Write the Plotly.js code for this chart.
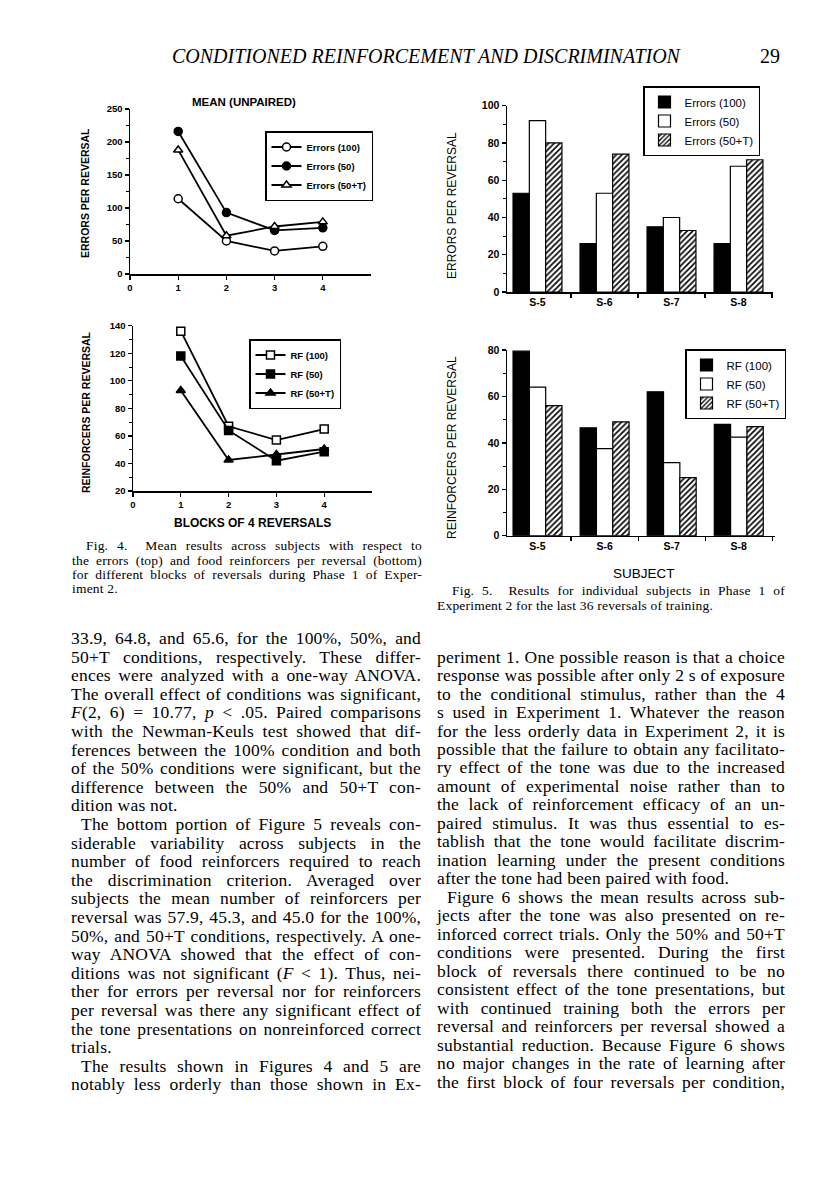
<!DOCTYPE html>
<html>
<head>
<meta charset="utf-8">
<script src="https://cdn.plot.ly/plotly-3.0.1.min.js"></script>
<style>
  body { margin: 0; background: #fff; }
  #page { position: relative; width: 816px; height: 1200px; overflow: hidden; background: #fff; }
  #chart { position: absolute; left: 0; top: 0; width: 816px; height: 1200px; }
  .ln { position: absolute; white-space: nowrap; font-family: "Liberation Serif", "Times New Roman", serif; color: #000; }
  .just { text-align: justify; text-align-last: justify; }
</style>
</head>
<body>
<div id="page">
  <div id="chart"></div>
</div>
<script>
// Fig. 4 - mean results per block of 4 reversals
const blocks = [1, 2, 3, 4]
const errors100 = [114, 50, 35, 42]
const errors50 = [216, 93, 66, 70]
const errors50T = [188, 58, 72, 79]
const rf100 = [136, 67, 57, 65]
const rf50 = [118, 64, 42, 48.5]
const rf50T = [93, 42.5, 46.5, 50.5]

// Fig. 5 - individual subjects
const subjects = ["S-5", "S-6", "S-7", "S-8"]
const subjErrors100 = [53, 26, 35, 26]
const subjErrors50 = [92, 53, 40, 67.5]
const subjErrors50T = [80, 74, 33, 71]
const subjRf100 = [79.5, 46.5, 62, 48]
const subjRf50 = [64, 37.5, 31.5, 42.5]
const subjRf50T = [56, 49, 25, 47]

// page pixel -> paper fraction (margins are 0)
const W = 816, H = 1200
const px = (x) => x / W
const py = (y) => 1 - y / H

const sans = "Liberation Sans, Arial, sans-serif"
const bold = { family: sans, weight: 700, color: "black" }

const lineTrace = (x, y, name, ax, leg, symbol, fill) => ({
  x, y, name, mode: "lines+markers",
  xaxis: "x" + ax, yaxis: "y" + ax, legend: leg,
  line: { color: "black", width: 1.8 },
  marker: { symbol, size: 8, color: fill, line: { color: "black", width: 1.5 } },
})

const hatch = { shape: "/", fgcolor: "black", bgcolor: "white", size: 4, solidity: 0.4 }
const barTrace = (y, name, ax, leg, fill, pattern) => ({
  type: "bar", x: subjects, y, name,
  xaxis: "x" + ax, yaxis: "y" + ax, legend: leg,
  marker: Object.assign({ color: fill, line: { color: "black", width: 1.2 } }, pattern ? { pattern } : {}),
})

const data = [
  lineTrace(blocks, errors100, "Errors (100)", "", "legend", "circle", "white"),
  lineTrace(blocks, errors50, "Errors (50)", "", "legend", "circle", "black"),
  lineTrace(blocks, errors50T, "Errors (50+T)", "", "legend", "triangle-up", "white"),
  lineTrace(blocks, rf100, "RF (100)", "2", "legend2", "square", "white"),
  lineTrace(blocks, rf50, "RF (50)", "2", "legend2", "square", "black"),
  lineTrace(blocks, rf50T, "RF (50+T)", "2", "legend2", "triangle-up", "black"),
  barTrace(subjErrors100, "Errors (100)", "3", "legend3", "black"),
  barTrace(subjErrors50, "Errors (50)", "3", "legend3", "white"),
  barTrace(subjErrors50T, "Errors (50+T)", "3", "legend3", "white", hatch),
  barTrace(subjRf100, "RF (100)", "4", "legend4", "black"),
  barTrace(subjRf50, "RF (50)", "4", "legend4", "white"),
  barTrace(subjRf50T, "RF (50+T)", "4", "legend4", "white", hatch),
]

const axisBase = {
  showline: true, linecolor: "black", linewidth: 1.5,
  showgrid: false, zeroline: false,
  ticks: "outside", tickcolor: "black", tickwidth: 1.3, ticklen: 4,
}
const minor = (d) => ({ dtick: d, ticks: "outside", ticklen: 2.5, tickcolor: "black", tickwidth: 1 })
const ax = (o) => Object.assign({}, axisBase, o)

const legendBase = (x, y, size, weight) => ({
  x: px(x), y: py(y), xanchor: "left", yanchor: "top",
  bgcolor: "white", bordercolor: "black", borderwidth: 1.5,
  font: { family: sans, size, weight, color: "black" },
})

const note = (text, x, y, font, angle) => ({
  text, x: px(x), y: py(y), xref: "paper", yref: "paper",
  showarrow: false, xanchor: "center", yanchor: "middle",
  textangle: angle || 0, font,
})

const smallTicks = Object.assign({ size: 9.5 }, bold)
const barTicks = Object.assign({ size: 10.5 }, bold)

const layout = {
  width: W, height: H,
  margin: { l: 0, r: 0, t: 0, b: 0 },
  paper_bgcolor: "white", plot_bgcolor: "rgba(0,0,0,0)",
  barmode: "group", bargap: 0.27, bargroupgap: 0,
  xaxis: ax({ domain: [px(130), px(371)], range: [0, 5], tickvals: [0, 1, 2, 3, 4], anchor: "y", tickfont: smallTicks }),
  yaxis: ax({ domain: [py(274), py(109)], range: [0, 250], dtick: 50, minor: minor(25), anchor: "x", tickfont: smallTicks }),
  xaxis2: ax({ domain: [px(133), px(372)], range: [0, 5], tickvals: [0, 1, 2, 3, 4], anchor: "y2", tickfont: smallTicks }),
  yaxis2: ax({ domain: [py(491), py(325.7)], range: [20, 140], dtick: 20, minor: minor(10), anchor: "x2", tickfont: smallTicks }),
  xaxis3: ax({ type: "category", domain: [px(507), px(773)], range: [-0.455, 3.515], tickson: "boundaries",
    anchor: "y3", tickfont: barTicks }),
  yaxis3: ax({ domain: [py(292), py(105.7)], range: [0, 100], dtick: 20, minor: minor(10), anchor: "x3", tickfont: barTicks }),
  xaxis4: ax({ type: "category", domain: [px(507), px(775)], range: [-0.455, 3.54], tickson: "boundaries",
    anchor: "y4", tickfont: barTicks }),
  yaxis4: ax({ domain: [py(535.7), py(350)], range: [0, 80], dtick: 20, minor: minor(10), anchor: "x4", tickfont: barTicks }),
  legend: legendBase(265, 131, 9.5, 700),
  legend2: legendBase(249, 339, 9.5, 700),
  legend3: legendBase(643, 86, 11.5, 400),
  legend4: legendBase(685, 349, 11.5, 400),
  annotations: [
    note("MEAN (UNPAIRED)", 244, 102, Object.assign({ size: 11.5 }, bold)),
    note("ERRORS PER REVERSAL", 85, 193, Object.assign({ size: 10.5 }, bold), -90),
    note("REINFORCERS PER REVERSAL", 86, 412, Object.assign({ size: 10.5 }, bold), -90),
    note("BLOCKS OF 4 REVERSALS", 252, 523, Object.assign({ size: 12 }, bold)),
    note("ERRORS PER REVERSAL", 452, 206, { family: sans, size: 12, color: "black" }, -90),
    note("REINFORCERS PER REVERSAL", 452, 448, { family: sans, size: 12, color: "black" }, -90),
    note("SUBJECT", 644, 574, { family: sans, size: 13.5, color: "black" }),
  ],
  showlegend: true,
}

Plotly.newPlot("chart", data, layout, { displayModeBar: false, staticPlot: true })

// ---- page text (header, captions, body columns) ----
const page = document.getElementById("page")

// place one line of text by its baseline
function addLine(html, left, width, baseline, size, opts) {
  opts = opts || {}
  const lh = Math.round(size * 1.15)
  const top = baseline - ((lh - 1.107 * size) / 2 + 0.891 * size)
  const d = document.createElement("div")
  d.className = "ln" + (opts.just ? " just" : "")
  d.style.left = left + (opts.indent || 0) + "px"
  if (width) d.style.width = width - (opts.indent || 0) + "px"
  d.style.top = top + "px"
  d.style.fontSize = size + "px"
  d.style.lineHeight = lh + "px"
  if (opts.spacing) d.style.letterSpacing = opts.spacing + "px"
  if (opts.italic) d.style.fontStyle = "italic"
  d.innerHTML = html
  page.appendChild(d)
}

addLine("CONDITIONED REINFORCEMENT AND DISCRIMINATION", 172, 0, 63, 20, { italic: true })
addLine("29", 760, 0, 63, 20)

const fig4Caption = [
  "Fig. 4.&nbsp; Mean results across subjects with respect to",
  "the errors (top) and food reinforcers per reversal (bottom)",
  "for different blocks of reversals during Phase 1 of Exper-",
  "iment 2.",
]
fig4Caption.forEach((t, i) => addLine(t, 72, 350, 551 + i * 14.2, 13.5,
  { just: i < 3, indent: i === 0 ? 14 : 0, spacing: 0.2 }))

const fig5Caption = [
  "Fig. 5.&nbsp; Results for individual subjects in Phase 1 of",
  "Experiment 2 for the last 36 reversals of training.",
]
fig5Caption.forEach((t, i) => addLine(t, 437, 348, 595.5 + i * 15, 13.5,
  { just: i === 0, indent: i === 0 ? 15 : 0, spacing: 0.2 }))

// ">" = paragraph indent, "|" = last line of paragraph (not justified)
const leftColumn = [
  "33.9, 64.8, and 65.6, for the 100%, 50%, and",
  "50+T conditions, respectively. These differ-",
  "ences were analyzed with a one-way ANOVA.",
  "The overall effect of conditions was significant,",
  "<i>F</i>(2, 6) = 10.77, <i>p</i> &lt; .05. Paired comparisons",
  "with the Newman-Keuls test showed that dif-",
  "ferences between the 100% condition and both",
  "of the 50% conditions were significant, but the",
  "difference between the 50% and 50+T con-",
  "|dition was not.",
  ">The bottom portion of Figure 5 reveals con-",
  "siderable variability across subjects in the",
  "number of food reinforcers required to reach",
  "the discrimination criterion. Averaged over",
  "subjects the mean number of reinforcers per",
  "reversal was 57.9, 45.3, and 45.0 for the 100%,",
  "50%, and 50+T conditions, respectively. A one-",
  "way ANOVA showed that the effect of con-",
  "ditions was not significant (<i>F</i> &lt; 1). Thus, nei-",
  "ther for errors per reversal nor for reinforcers",
  "per reversal was there any significant effect of",
  "the tone presentations on nonreinforced correct",
  "|trials.",
  ">The results shown in Figures 4 and 5 are",
  "notably less orderly than those shown in Ex-",
]
const rightColumn = [
  "periment 1. One possible reason is that a choice",
  "response was possible after only 2 s of exposure",
  "to the conditional stimulus, rather than the 4",
  "s used in Experiment 1. Whatever the reason",
  "for the less orderly data in Experiment 2, it is",
  "possible that the failure to obtain any facilitato-",
  "ry effect of the tone was due to the increased",
  "amount of experimental noise rather than to",
  "the lack of reinforcement efficacy of an un-",
  "paired stimulus. It was thus essential to es-",
  "tablish that the tone would facilitate discrim-",
  "ination learning under the present conditions",
  "|after the tone had been paired with food.",
  ">Figure 6 shows the mean results across sub-",
  "jects after the tone was also presented on re-",
  "inforced correct trials. Only the 50% and 50+T",
  "conditions were presented. During the first",
  "block of reversals there continued to be no",
  "consistent effect of the tone presentations, but",
  "with continued training both the errors per",
  "reversal and reinforcers per reversal showed a",
  "substantial reduction. Because Figure 6 shows",
  "no major changes in the rate of learning after",
  "the first block of four reversals per condition,",
]

function addColumn(lines, left, width, firstBaseline, step) {
  lines.forEach((t, i) => {
    const indent = t[0] === ">" ? 10 : 0
    const last = t[0] === "|"
    const text = t.replace(/^[>|]/, "")
    addLine(text, left, width, firstBaseline + i * step, 17.5, { just: !last, indent, spacing: 0.2 })
  })
}
addColumn(leftColumn, 71, 350, 644, 18.6)
addColumn(rightColumn, 437, 348, 662.5, 18.48)
</script>
</body>
</html>
